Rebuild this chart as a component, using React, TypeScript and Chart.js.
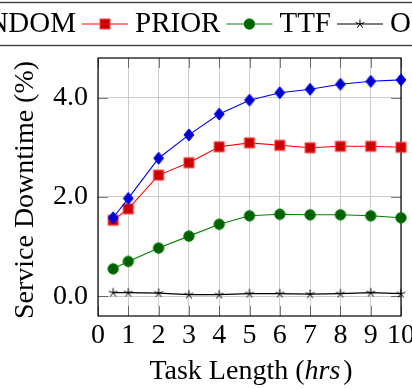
import React, { useEffect, useRef } from 'react';
import { Chart, registerables } from 'chart.js';

Chart.register(...registerables);

// ---- data ----
const TASK_LENGTH = [0.5, 1, 2, 3, 4, 5, 6, 7, 8, 9, 10];
const RANDOM = [1.58, 1.97, 2.78, 3.25, 3.67, 3.95, 4.1, 4.17, 4.27, 4.33, 4.36];
const PRIOR = [1.53, 1.76, 2.44, 2.69, 3.01, 3.09, 3.04, 2.99, 3.02, 3.02, 3.0];
const TTF = [0.55, 0.7, 0.97, 1.21, 1.45, 1.62, 1.65, 1.64, 1.64, 1.62, 1.58];
const OPT = [0.07, 0.07, 0.06, 0.03, 0.03, 0.05, 0.05, 0.04, 0.05, 0.07, 0.05];
const SERIES_NAMES = ['RANDOM', 'PRIOR', 'TTF', 'OPT'];
const X_TICKS = [0, 1, 2, 3, 4, 5, 6, 7, 8, 9, 10];
const Y_TICKS = [0, 2, 4];
const X_MIN = 0;
const X_MAX = 10;
const Y_MIN = -0.4;
const Y_MAX = 4.8;
const X_TITLE_PARTS = ['Task Length (', 'hrs', ')'];
const Y_TITLE = 'Service Downtime (%)';

const FAMILY = '"Liberation Serif", "Times New Roman", serif';
const LINE_COLORS = ['#0000ff', '#ff0000', '#008000', '#000000'];
const MARKERS = ['diamond', 'square', 'otimes', 'star'];

function drawMarker(g: CanvasRenderingContext2D, kind: string, x: number, y: number) {
  g.save();
  if (kind === 'diamond') {
    g.beginPath();
    g.moveTo(x, y - 6);
    g.lineTo(x + 5, y);
    g.lineTo(x, y + 6);
    g.lineTo(x - 5, y);
    g.closePath();
    g.fillStyle = '#0000cc';
    g.fill();
    g.strokeStyle = '#0000ff';
    g.lineWidth = 1;
    g.stroke();
  } else if (kind === 'square') {
    g.fillStyle = '#cc0000';
    g.fillRect(x - 5, y - 5, 10, 10);
    g.strokeStyle = '#ff4040';
    g.lineWidth = 1;
    g.strokeRect(x - 5, y - 5, 10, 10);
  } else if (kind === 'otimes') {
    g.beginPath();
    g.arc(x, y, 5.2, 0, Math.PI * 2);
    g.fillStyle = '#006600';
    g.fill();
    g.strokeStyle = '#007a00';
    g.lineWidth = 1;
    g.stroke();
    g.beginPath();
    const d = 5.2 * Math.SQRT1_2;
    g.moveTo(x - d, y - d);
    g.lineTo(x + d, y + d);
    g.moveTo(x + d, y - d);
    g.lineTo(x - d, y + d);
    g.strokeStyle = '#004a00';
    g.lineWidth = 0.7;
    g.stroke();
  } else if (kind === 'star') {
    g.beginPath();
    for (let i = 0; i < 5; i++) {
      const a = -Math.PI / 2 + (i * 2 * Math.PI) / 5;
      g.moveTo(x, y);
      g.lineTo(x + 4.6 * Math.cos(a), y + 4.6 * Math.sin(a));
    }
    g.strokeStyle = '#000';
    g.lineWidth = 1;
    g.stroke();
  }
  g.restore();
}

function markerCanvas(kind: string) {
  const c = document.createElement('canvas');
  c.width = 16;
  c.height = 16;
  const g = c.getContext('2d')!;
  drawMarker(g, kind, 8, 8);
  return c;
}

const decorPlugin = {
  id: 'decor',
  beforeDatasetsDraw(chart: any) {
    const { ctx, chartArea: a, scales } = chart;
    ctx.save();
    ctx.strokeStyle = 'rgba(0,0,0,0.5)';
    ctx.lineWidth = 1;
    ctx.beginPath();
    X_TICKS.forEach((v) => {
      const px = Math.round(scales.x.getPixelForValue(v)) + 0.5;
      ctx.moveTo(px, a.bottom);
      ctx.lineTo(px, a.bottom - 10);
      ctx.moveTo(px, a.top);
      ctx.lineTo(px, a.top + 10);
    });
    Y_TICKS.forEach((v) => {
      const py = Math.round(scales.y.getPixelForValue(v)) + 0.5;
      ctx.moveTo(a.left, py);
      ctx.lineTo(a.left + 10, py);
      ctx.moveTo(a.right, py);
      ctx.lineTo(a.right - 10, py);
    });
    ctx.stroke();
    ctx.strokeStyle = '#000';
    ctx.lineWidth = 1.2;
    ctx.strokeRect(a.left, a.top, a.right - a.left, a.bottom - a.top);
    ctx.restore();
  },
  afterDraw(chart: any) {
    const { ctx } = chart;
    ctx.save();
    // legend
    ctx.font = `29px ${FAMILY}`;
    ctx.fillStyle = '#000';
    ctx.textBaseline = 'alphabetic';
    ctx.textAlign = 'left';
    const lineLen = 46;
    const gapAfterLine = 7;
    const gapAfterText = 6;
    const widths = SERIES_NAMES.map((n) => ctx.measureText(n).width);
    let x = 135 - (lineLen + gapAfterLine + widths[0] + gapAfterText + lineLen + gapAfterLine);
    const lineY = 24;
    const textY = 31.5;
    ctx.strokeStyle = '#333';
    ctx.lineWidth = 1.3;
    ctx.strokeRect(-20, 2.5, 460, 43);
    SERIES_NAMES.forEach((name, i) => {
      ctx.beginPath();
      ctx.strokeStyle = LINE_COLORS[i];
      ctx.lineWidth = 1.2;
      ctx.moveTo(x, lineY);
      ctx.lineTo(x + lineLen, lineY);
      ctx.stroke();
      drawMarker(ctx, MARKERS[i], x + lineLen / 2, lineY);
      x += lineLen + gapAfterLine;
      ctx.fillStyle = '#000';
      ctx.fillText(name, x, textY);
      x += widths[i] + gapAfterText;
    });
    // x title with italic part
    const fonts = [`28px ${FAMILY}`, `italic 28px ${FAMILY}`, `28px ${FAMILY}`];
    const ws = X_TITLE_PARTS.map((p, i) => {
      ctx.font = fonts[i];
      return ctx.measureText(p).width + (i === 1 ? 3 : 0);
    });
    const total = ws.reduce((s, w) => s + w, 0);
    let tx = 251 - total / 2;
    X_TITLE_PARTS.forEach((p, i) => {
      ctx.font = fonts[i];
      ctx.fillText(p, tx, 379);
      tx += ws[i];
    });
    // y title (rotated)
    ctx.font = `28px ${FAMILY}`;
    ctx.translate(33, 190);
    ctx.rotate(-Math.PI / 2);
    ctx.textAlign = 'center';
    ctx.textBaseline = 'alphabetic';
    ctx.fillText(Y_TITLE, 0, 0);
    ctx.restore();
  },
};

export default function App() {
  const ref = useRef<HTMLCanvasElement>(null);
  useEffect(() => {
    document.body.style.margin = '0';
    const series = [RANDOM, PRIOR, TTF, OPT];
    const chart = new Chart(ref.current!, {
      type: 'line',
      data: {
        datasets: series.map((vals, i) => ({
          label: SERIES_NAMES[i],
          data: TASK_LENGTH.map((t, k) => ({ x: t, y: vals[k] })),
          borderColor: LINE_COLORS[i],
          borderWidth: i === 3 ? 1.3 : 1.1,
          pointStyle: markerCanvas(MARKERS[i]) as any,
          pointRadius: 5,
          fill: false,
          tension: 0,
          clip: false as any,
        })),
      },
      options: {
        responsive: false,
        animation: false,
        devicePixelRatio: 1,
        layout: { padding: { left: 0, right: 11, top: 58, bottom: 0 } },
        plugins: { legend: { display: false }, tooltip: { enabled: false }, title: { display: false } },
        scales: {
          x: {
            type: 'linear',
            min: X_MIN,
            max: X_MAX,
            afterBuildTicks: (s: any) => {
              s.ticks = X_TICKS.map((v) => ({ value: v }));
            },
            ticks: {
              font: { family: FAMILY, size: 28 },
              color: '#000',
              padding: 3,
              maxRotation: 0,
              autoSkip: false,
            },
            grid: { color: '#cccccc', lineWidth: 1, drawTicks: false },
            border: { display: false },
            afterFit: (s: any) => {
              s.height = 73;
              s.paddingLeft = 0;
              s.paddingRight = 0;
            },
          },
          y: {
            type: 'linear',
            min: Y_MIN,
            max: Y_MAX,
            afterBuildTicks: (s: any) => {
              s.ticks = Y_TICKS.map((v) => ({ value: v }));
            },
            ticks: {
              font: { family: FAMILY, size: 28 },
              color: '#000',
              padding: 10,
              callback: (v: any) => Number(v).toFixed(1),
            },
            grid: { color: '#cccccc', lineWidth: 1, drawTicks: false },
            border: { display: false },
            afterFit: (s: any) => {
              s.width = 98;
              s.paddingTop = 0;
              s.paddingBottom = 0;
            },
          },
        },
      },
      plugins: [decorPlugin],
    });
    return () => chart.destroy();
  }, []);
  return (
    <div style={{ width: 412, height: 389, overflow: 'hidden', background: '#fff' }}>
      <canvas ref={ref} width={412} height={389} style={{ display: 'block' }} />
    </div>
  );
}
